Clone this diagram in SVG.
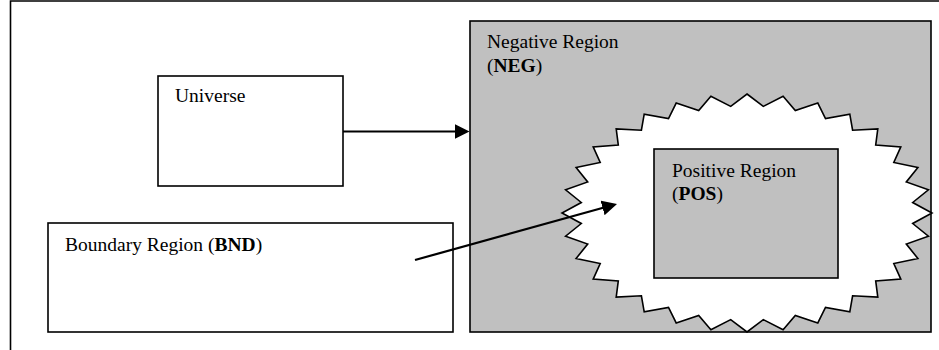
<svg xmlns="http://www.w3.org/2000/svg" width="939" height="350" viewBox="0 0 939 350">
<style>
  .box { stroke: #000; stroke-width: 1.6; }
  .white { fill: #fff; }
  .grey { fill: #c0c0c0; }
  .lbl { font-family: "Liberation Serif", "Times New Roman", serif; font-size: 19.5px; fill: #000; }
  .b { font-weight: bold; }
  .conn { stroke: #000; stroke-width: 2.2; fill: none; marker-end: url(#arrow); }
</style>
<defs>
  <marker id="arrow" markerUnits="userSpaceOnUse" markerWidth="16" markerHeight="16" refX="10" refY="7.5" orient="auto">
    <path d="M0,0 L15,7.5 L0,15 Z" fill="#000"/>
  </marker>
</defs>
<rect width="939" height="350" fill="#fff"/>
<path id="frame" d="M10.5,352 V1 H939" fill="none" stroke="#000" stroke-width="1.6"/>

<g id="universe">
  <rect class="box white" x="158" y="76" width="185" height="110"/>
  <text class="lbl" x="175" y="102">Universe</text>
</g>

<g id="boundary">
  <rect class="box white" x="48" y="223" width="405" height="109"/>
  <text class="lbl" x="65" y="251">Boundary Region (<tspan class="b">BND</tspan>)</text>
</g>

<g id="negative">
  <rect class="box grey" x="470" y="21" width="461" height="311"/>
  <text class="lbl" x="487" y="48">Negative Region</text>
  <text class="lbl" x="487" y="72">(<tspan class="b">NEG</tspan>)</text>
</g>

<g id="star">
  <polygon class="box white" points="747,94 763.3,106.4 783.1,96.3 795.3,110.5 817.8,103.1 825.5,118.5 849.8,114.1 852.6,130.2 877.8,128.9 875.7,145.1 900.8,146.9 893.8,162.5 917.9,167.5 906.3,181.9 928.4,189.8 912.7,202.5 932,213 912.7,223.5 928.4,236.2 906.3,244.1 917.9,258.5 893.8,263.5 900.8,279.1 875.7,280.9 877.8,297.1 852.6,295.8 849.8,311.9 825.5,307.5 817.8,322.9 795.3,315.5 783.1,329.7 763.3,319.6 747,332 730.7,319.6 710.9,329.7 698.7,315.5 676.2,322.9 668.5,307.5 644.2,311.9 641.4,295.8 616.2,297.1 618.3,280.9 593.2,279.1 600.2,263.5 576.1,258.5 587.7,244.1 565.6,236.2 581.3,223.5 562,213 581.3,202.5 565.6,189.8 587.7,181.9 576.1,167.5 600.2,162.5 593.2,146.9 618.3,145.1 616.2,128.9 641.4,130.2 644.2,114.1 668.5,118.5 676.2,103.1 698.7,110.5 710.9,96.3 730.7,106.4" stroke-linejoin="miter"/>
</g>

<g id="positive">
  <rect class="box grey" x="654" y="149" width="184" height="129"/>
  <text class="lbl" x="672" y="177">Positive Region</text>
  <text class="lbl" x="672" y="200">(<tspan class="b">POS</tspan>)</text>
</g>

<g id="connectors">
  <line class="conn" x1="343" y1="131.5" x2="464.5" y2="131.5"/>
  <line class="conn" x1="415" y1="260" x2="612.2" y2="205.3"/>
</g>
</svg>
